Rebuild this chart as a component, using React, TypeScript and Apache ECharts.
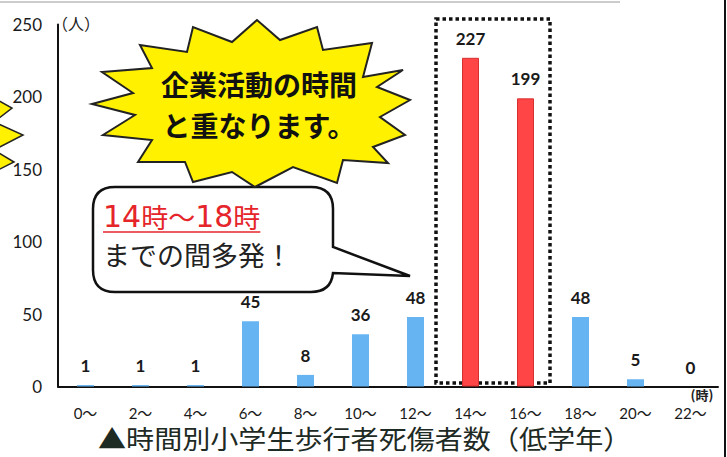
import React, { useEffect, useRef } from "react";
import * as echarts from "echarts";

const categories = ["0〜", "2〜", "4〜", "6〜", "8〜", "10〜", "12〜", "14〜", "16〜", "18〜", "20〜", "22〜"];
const values = [1, 1, 1, 45, 8, 36, 48, 227, 199, 48, 5, 0];
const highlighted = ["14〜", "16〜"];
const yTicks = [0, 50, 100, 150, 200, 250];
const titleText = "▲時間別小学生歩行者死傷者数（低学年）";
const burstLines = ["企業活動の時間", "と重なります。"];
const bubbleParts = [["14", "d"], ["時〜", "c"], ["18", "d"], ["時", "c"]];
const bubbleLine2 = "までの間多発！";
const yUnit = "（人）";
const xUnit = "(時)";

const burstPoints = [
  [92, 104], [133, 93], [102, 72], [152, 68], [140, 45], [187, 52], [193, 27], [232, 42],
  [257, 20], [280, 40], [317, 27], [323, 50], [372, 43], [363, 77], [403, 70], [377, 87],
  [410, 100], [380, 117], [405, 135], [373, 147], [388, 163], [343, 160], [337, 183], [293, 167],
  [255, 187], [232, 172], [193, 182], [185, 162], [138, 162], [152, 140], [103, 135], [135, 115],
];
const sideBurstPoints = [[-6, 98], [12, 108], [-6, 122], [23, 135], [-6, 150], [14, 162], [-6, 172]];

const bubblePath =
  "M115 187 L311 187 Q333 187 333 209 L333 247 L410 276 L333 273 Q331 292 311 292 L115 292 Q93 292 93 270 L93 209 Q93 187 115 187 Z";

echarts.graphic.registerShape("bubble", echarts.graphic.extendPath(bubblePath, {}));

const NUM_FONT = "Lato, 'Noto Sans CJK JP', sans-serif";
const JP_FONT = "'Noto Sans CJK JP', sans-serif";
const BUBBLE_NUM_FONT = "'DejaVu Sans', 'Noto Sans CJK JP', sans-serif";

function measure(text: string, font: string): number {
  const c = document.createElement("canvas").getContext("2d");
  if (!c) return text.length * 20;
  c.font = font;
  return c.measureText(text).width;
}

export default function App() {
  const ref = useRef<HTMLDivElement>(null);
  useEffect(() => {
    if (!ref.current) return;
    const chart = echarts.init(ref.current, null, { renderer: "svg" });

    const segStyles: Record<string, { size: number; family: string }> = {
      d: { size: 30, family: BUBBLE_NUM_FONT },
      c: { size: 27, family: JP_FONT },
    };
    let cx = 103;
    const redSegs: any[] = [];
    bubbleParts.forEach(([t, k]) => {
      const s = segStyles[k];
      redSegs.push({
        type: "text",
        x: cx,
        y: 216,
        style: { text: t, fontSize: s.size, fill: "#E5252A", fontFamily: s.family, textVerticalAlign: "middle" },
      });
      cx += measure(t, `${s.size}px ${s.family}`);
    });

    const option = {
      animation: false,
      grid: { left: 58, right: 9, top: 24.5, bottom: 70.5, containLabel: false },
      xAxis: {
        type: "category",
        data: categories,
        axisLine: { lineStyle: { color: "#111", width: 2 } },
        axisTick: { show: false },
        axisLabel: { color: "#1a1a1a", fontSize: 15, lineHeight: 15, margin: 19, interval: 0, fontFamily: NUM_FONT },
      },
      yAxis: {
        type: "value",
        min: yTicks[0],
        max: yTicks[yTicks.length - 1],
        interval: yTicks[1] - yTicks[0],
        axisLine: { show: true, lineStyle: { color: "#111", width: 2 } },
        axisTick: { show: false },
        splitLine: { show: false },
        axisLabel: { color: "#1a1a1a", fontSize: 17, margin: 16, fontFamily: NUM_FONT },
      },
      series: [
        {
          type: "bar",
          barWidth: 17,
          data: values.map((v, i) => ({
            value: v,
            itemStyle: highlighted.includes(categories[i])
              ? { color: "#FF4545", borderColor: "#D83030", borderWidth: 1 }
              : { color: "#66B4F2" },
          })),
          label: {
            show: true,
            position: "top",
            distance: 11,
            fontSize: 17,
            fontWeight: "bold",
            color: "#1a1a1a",
            fontFamily: NUM_FONT,
          },
        },
      ],
      graphic: [
        { type: "line", shape: { x1: 0, y1: 2, x2: 620, y2: 2 }, style: { stroke: "#bbb", lineWidth: 1.5 } },
        { type: "line", shape: { x1: 725, y1: 0, x2: 725, y2: 457 }, style: { stroke: "#111", lineWidth: 2 } },
        {
          type: "text",
          x: 52,
          y: 23,
          style: { text: yUnit, fontSize: 16, fill: "#222", fontFamily: JP_FONT, textVerticalAlign: "middle" },
        },
        {
          type: "text",
          x: 702,
          y: 394,
          style: { text: xUnit, fontSize: 13, fontWeight: "bold", fill: "#222", fontFamily: JP_FONT, textAlign: "center", textVerticalAlign: "middle" },
        },
        {
          type: "rect",
          shape: { x: 436, y: 19, width: 114, height: 364 },
          style: { fill: "none", stroke: "#111", lineWidth: 3.5, lineDash: [3.5, 3] },
        },
        {
          type: "polygon",
          shape: { points: sideBurstPoints },
          style: { fill: "#FFF100", stroke: "#222", lineWidth: 1.5 },
        },
        {
          type: "bubble",
          x: 0,
          y: 0,
          style: { fill: "#fff", stroke: "#111", lineWidth: 2.5 },
        },
        {
          type: "polygon",
          shape: { points: burstPoints },
          style: { fill: "#FFF100", stroke: "#222", lineWidth: 2 },
        },
        {
          type: "text",
          x: 259,
          y: 84,
          style: { text: burstLines[0], fontSize: 28, fontWeight: "bold", fill: "#111", fontFamily: JP_FONT, textAlign: "center", textVerticalAlign: "middle" },
        },
        {
          type: "text",
          x: 259,
          y: 125,
          style: { text: burstLines[1], fontSize: 28, fontWeight: "bold", fill: "#111", fontFamily: JP_FONT, textAlign: "center", textVerticalAlign: "middle" },
        },
        ...redSegs,
        { type: "line", shape: { x1: 103, y1: 232, x2: Math.max(cx, 200), y2: 232 }, style: { stroke: "#E5252A", lineWidth: 1.5 } },
        {
          type: "text",
          x: 103,
          y: 254,
          style: { text: bubbleLine2, fontSize: 27, fill: "#222", fontFamily: JP_FONT, textVerticalAlign: "middle" },
        },
        {
          type: "text",
          x: 98,
          y: 438,
          scaleX: 1.08,
          style: { text: titleText, fontSize: 26, fill: "#1e2a24", fontFamily: JP_FONT, textVerticalAlign: "middle" },
        },
      ],
    };
    chart.setOption(option as any);
    return () => chart.dispose();
  }, []);
  return <div ref={ref} style={{ width: 727, height: 457, position: "absolute", left: 0, top: 0 }} />;
}
